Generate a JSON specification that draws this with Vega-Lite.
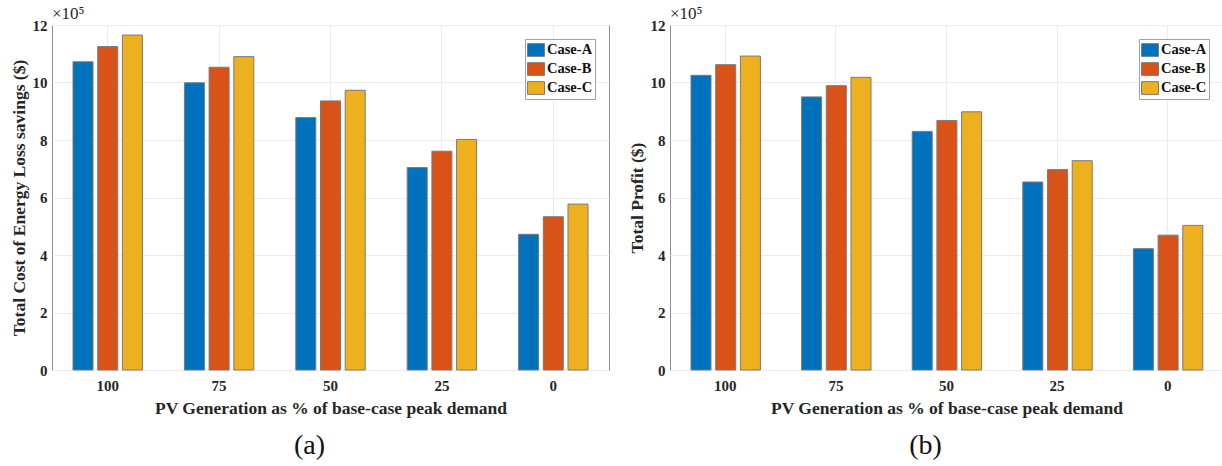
{
  "$schema": "https://vega.github.io/schema/vega-lite/v6.json",
  "padding": {"left": 9, "top": 4, "right": 0, "bottom": 0},
  "background": "white",
  "datasets": {
    "cost": [
      {"pv": "100", "case": "Case-A", "value": 1072000},
      {"pv": "100", "case": "Case-B", "value": 1125000},
      {"pv": "100", "case": "Case-C", "value": 1165000},
      {"pv": "75", "case": "Case-A", "value": 999000},
      {"pv": "75", "case": "Case-B", "value": 1053000},
      {"pv": "75", "case": "Case-C", "value": 1090000},
      {"pv": "50", "case": "Case-A", "value": 878000},
      {"pv": "50", "case": "Case-B", "value": 936000},
      {"pv": "50", "case": "Case-C", "value": 973000},
      {"pv": "25", "case": "Case-A", "value": 704000},
      {"pv": "25", "case": "Case-B", "value": 761000},
      {"pv": "25", "case": "Case-C", "value": 802000},
      {"pv": "0", "case": "Case-A", "value": 472000},
      {"pv": "0", "case": "Case-B", "value": 533000},
      {"pv": "0", "case": "Case-C", "value": 577000}
    ],
    "profit": [
      {"pv": "100", "case": "Case-A", "value": 1025000},
      {"pv": "100", "case": "Case-B", "value": 1062000},
      {"pv": "100", "case": "Case-C", "value": 1092000},
      {"pv": "75", "case": "Case-A", "value": 950000},
      {"pv": "75", "case": "Case-B", "value": 989000},
      {"pv": "75", "case": "Case-C", "value": 1018000},
      {"pv": "50", "case": "Case-A", "value": 830000},
      {"pv": "50", "case": "Case-B", "value": 868000},
      {"pv": "50", "case": "Case-C", "value": 898000},
      {"pv": "25", "case": "Case-A", "value": 654000},
      {"pv": "25", "case": "Case-B", "value": 697000},
      {"pv": "25", "case": "Case-C", "value": 728000},
      {"pv": "0", "case": "Case-A", "value": 422000},
      {"pv": "0", "case": "Case-B", "value": 469000},
      {"pv": "0", "case": "Case-C", "value": 503000}
    ]
  },
  "hconcat": [
    {
      "title": {"text": "(a)", "orient": "bottom", "anchor": "middle", "frame": "bounds", "font": "Liberation Serif", "fontWeight": "normal", "fontSize": 28, "color": "#111111", "offset": 15},
      "resolve": {"scale": {"color": "independent"}},
      "vconcat": [
        {
          "width": 557,
          "height": 345,
          "title": {"text": "×10⁵", "anchor": "start", "frame": "group", "font": "Liberation Serif", "fontWeight": "normal", "fontSize": 17, "color": "#262626", "offset": -5},
          "data": {"name": "cost"},
          "mark": {"type": "bar", "stroke": "#7a7a7a", "strokeWidth": 1},
          "encoding": {
            "x": {
              "field": "pv", "type": "nominal", "sort": ["100", "75", "50", "25", "0"],
              "scale": {"paddingInner": 0, "paddingOuter": 0},
              "axis": {"title": "PV Generation as % of base-case peak demand", "labelAngle": 0, "bandPosition": 0.5, "labelPadding": 8, "titlePadding": 6}
            },
            "xOffset": {"field": "case", "type": "nominal", "scale": {"paddingInner": 0.19, "paddingOuter": 0.85}},
            "y": {
              "field": "value", "type": "quantitative",
              "scale": {"domain": [0, 1200000], "nice": false},
              "axis": {"title": "Total Cost of Energy Loss savings ($)", "values": [0, 200000, 400000, 600000, 800000, 1000000, 1200000], "labelExpr": "format(datum.value / 100000, 'd')", "labelPadding": 5, "titlePadding": 4}
            },
            "color": {
              "field": "case", "type": "nominal",
              "scale": {"domain": ["Case-A", "Case-B", "Case-C"], "range": ["#0072BD", "#D95319", "#EDB120"]},
              "legend": {"title": null, "orient": "top-right", "offset": 14}
            }
          }
        }
      ]
    },
    {
      "title": {"text": "(b)", "orient": "bottom", "anchor": "middle", "frame": "bounds", "font": "Liberation Serif", "fontWeight": "normal", "fontSize": 28, "color": "#111111", "offset": 15},
      "resolve": {"scale": {"color": "independent"}},
      "vconcat": [
        {
          "width": 553,
          "height": 345,
          "title": {"text": "×10⁵", "anchor": "start", "frame": "group", "font": "Liberation Serif", "fontWeight": "normal", "fontSize": 17, "color": "#262626", "offset": -5},
          "data": {"name": "profit"},
          "mark": {"type": "bar", "stroke": "#7a7a7a", "strokeWidth": 1},
          "encoding": {
            "x": {
              "field": "pv", "type": "nominal", "sort": ["100", "75", "50", "25", "0"],
              "scale": {"paddingInner": 0, "paddingOuter": 0},
              "axis": {"title": "PV Generation as % of base-case peak demand", "labelAngle": 0, "bandPosition": 0.5, "labelPadding": 8, "titlePadding": 6}
            },
            "xOffset": {"field": "case", "type": "nominal", "scale": {"paddingInner": 0.19, "paddingOuter": 0.85}},
            "y": {
              "field": "value", "type": "quantitative",
              "scale": {"domain": [0, 1200000], "nice": false},
              "axis": {"title": "Total Profit ($)", "values": [0, 200000, 400000, 600000, 800000, 1000000, 1200000], "labelExpr": "format(datum.value / 100000, 'd')", "labelPadding": 5, "titlePadding": 4}
            },
            "color": {
              "field": "case", "type": "nominal",
              "scale": {"domain": ["Case-A", "Case-B", "Case-C"], "range": ["#0072BD", "#D95319", "#EDB120"]},
              "legend": {"title": null, "orient": "top-right", "offset": 14}
            }
          }
        }
      ]
    }
  ],
  "spacing": 17,
  "resolve": {"scale": {"color": "independent"}},
  "config": {
    "view": {"stroke": "#8f8f8f", "strokeWidth": 1},
    "concat": {"spacing": 0},
    "axis": {
      "labelFont": "Liberation Serif", "labelFontWeight": "bold", "labelFontSize": 15, "labelColor": "#262626",
      "titleFont": "Liberation Serif", "titleFontWeight": "bold", "titleFontSize": 17.5, "titleColor": "#262626",
      "domain": false, "ticks": false, "grid": true, "gridColor": "#ebebeb", "gridWidth": 1
    },
    "legend": {
      "labelFont": "Liberation Serif", "labelFontWeight": "bold", "labelFontSize": 14.5, "labelColor": "#111111",
      "symbolType": "M-1,-0.75H1V0.75H-1Z", "symbolSize": 289, "symbolStrokeColor": "#7a7a7a", "symbolStrokeWidth": 1, "symbolOpacity": 1,
      "strokeColor": "#a0a0a0", "fillColor": "white", "padding": 2, "rowPadding": 1, "labelOffset": 2, "cornerRadius": 0
    }
  }
}
